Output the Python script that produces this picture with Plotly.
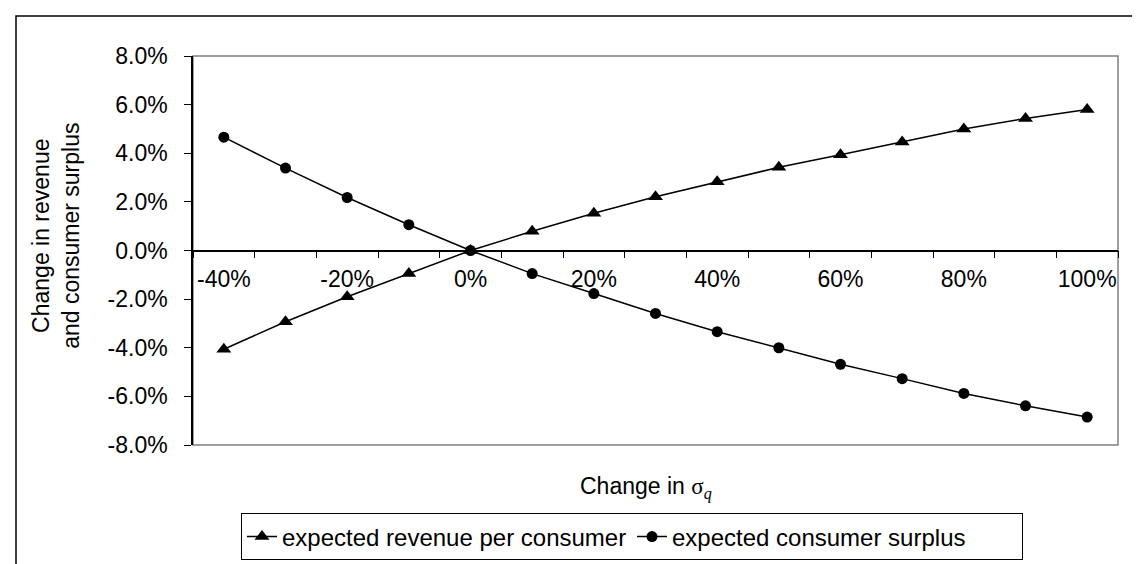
import plotly.graph_objects as go

# Data (percent change)
change_sigma = [-40, -30, -20, -10, 0, 10, 20, 30, 40, 50, 60, 70, 80, 90, 100]
revenue = [-4.06, -2.93, -1.90, -0.95, 0.0, 0.79, 1.53, 2.21, 2.83, 3.42, 3.94, 4.46, 5.00, 5.43, 5.80]
surplus = [4.66, 3.39, 2.18, 1.06, 0.0, -0.95, -1.77, -2.59, -3.34, -4.00, -4.68, -5.27, -5.88, -6.39, -6.85]

x_tickvals = [-40, -20, 0, 20, 40, 60, 80, 100]
x_ticktext = ["-40%", "-20%", "0%", "20%", "40%", "60%", "80%", "100%"]
y_tickvals = [-8, -6, -4, -2, 0, 2, 4, 6, 8]
y_ticktext = ["-8.0%", "-6.0%", "-4.0%", "-2.0%", "0.0%", "2.0%", "4.0%", "6.0%", "8.0%"]

FONT = "Liberation Sans, Arial, sans-serif"
FS = 23

W, H = 1140, 564
ML, MR, MT, MB = 185, 30, 48, 118
PW = W - ML - MR
PH = H - MT - MB

def px_x(p):
    return (p - ML) / PW

def px_y(p):
    return (H - MB - p) / PH

fig = go.Figure()
fig.add_trace(go.Scatter(
    x=change_sigma, y=revenue, mode="lines+markers",
    name="expected revenue per consumer",
    line=dict(color="black", width=1.5),
    marker=dict(symbol="triangle-up", size=13, color="black"),
))
fig.add_trace(go.Scatter(
    x=change_sigma, y=surplus, mode="lines+markers",
    name="expected consumer surplus",
    line=dict(color="black", width=1.5),
    marker=dict(symbol="circle", size=11, color="black"),
))

fig.update_layout(
    width=W, height=H,
    margin=dict(l=ML, r=MR, t=MT, b=MB),
    paper_bgcolor="white", plot_bgcolor="white",
    font=dict(family=FONT, size=FS, color="black"),
    showlegend=True,
    legend=dict(
        orientation="h", x=px_x(233), xanchor="left", y=px_y(516), yanchor="top",
        bordercolor="black", borderwidth=1, font=dict(size=24),
        itemsizing="trace", tracegroupgap=0,
        entrywidth=345, entrywidthmode="pixels",
    ),
    xaxis=dict(
        range=[-45, 105], anchor="free", position=0.5,
        showline=True, linecolor="black", linewidth=1.5,
        showgrid=False, zeroline=False,
        tickmode="array", tickvals=x_tickvals, ticktext=x_ticktext,
        ticks="", ticklabelstandoff=8,
        minor=dict(tick0=-45, dtick=10, ticks="outside", ticklen=7,
                   tickcolor="black", tickwidth=1, showgrid=False),
        tickfont=dict(size=FS),
    ),
    yaxis=dict(
        range=[-8, 8],
        showline=True, linecolor="black", linewidth=1.5,
        showgrid=False, zeroline=False,
        tickmode="array", tickvals=y_tickvals, ticktext=y_ticktext,
        ticks="outside", ticklen=7, tickcolor="black",
        ticklabelstandoff=12,
        tickfont=dict(size=FS),
    ),
    shapes=[
        dict(type="rect", xref="x domain", yref="y domain", x0=0, x1=1, y0=0, y1=1,
             line=dict(color="#808080", width=1.5), layer="below"),
        dict(type="rect", xref="paper", yref="paper",
             x0=px_x(8), x1=px_x(1138), y0=px_y(580), y1=px_y(7),
             line=dict(color="black", width=1.5)),
    ],
    annotations=[
        dict(text="Change in revenue<br>and consumer surplus", textangle=-90,
             xref="paper", yref="paper", x=px_x(48), y=px_y(232),
             xanchor="center", yanchor="middle", showarrow=False,
             font=dict(size=FS)),
        dict(text="Change in <span style='font-family:Liberation Serif, Times New Roman, serif'>σ<sub><i>q</i></sub></span>",
             xref="paper", yref="paper", x=0.49, y=px_y(490),
             xanchor="center", yanchor="middle", showarrow=False,
             font=dict(size=FS)),
    ],
)

fig.write_html("out.html")
